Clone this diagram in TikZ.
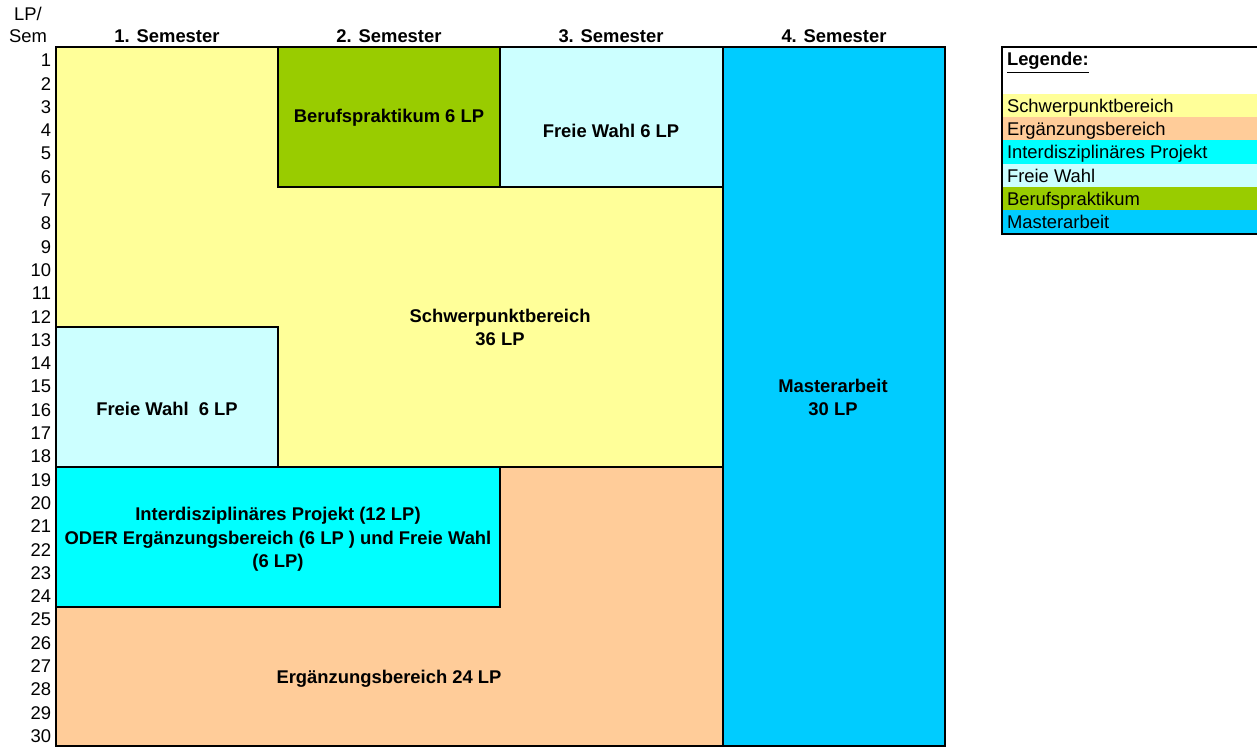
\documentclass[tikz,border=0pt]{standalone}
\usepackage{fontspec}
\setmainfont{Liberation Sans}
\definecolor{spyellow}{HTML}{FFFF99}
\definecolor{iporange}{HTML}{FFCC99}
\definecolor{ipcyan}{HTML}{00FFFF}
\definecolor{fwcyan}{HTML}{CCFFFF}
\definecolor{bpgreen}{HTML}{99CC00}
\definecolor{mablue}{HTML}{00CCFF}
\usepackage{tikz}

\begin{document}
\begin{tikzpicture}[x=0.5pt, y=-0.5pt, line width=1pt,
    lbl/.style={font=\fontsize{9.2}{11.75}\selectfont\bfseries, inner sep=0pt, text height=6.6pt, text depth=0pt, align=center},
    num/.style={font=\fontsize{9.2}{11.75}\selectfont, inner sep=0pt, anchor=east, text height=6.6pt, text depth=0pt},
    leg/.style={font=\fontsize{9.2}{11.75}\selectfont, inner sep=0pt, anchor=west, text height=6.6pt, text depth=0pt}]
    \useasboundingbox (0,0) rectangle (1257,749);
    % Module blocks
    \draw[fill=spyellow] (56,47) rectangle (723,467);
    \draw[fill=bpgreen] (278,47) rectangle (500,187);
    \draw[fill=fwcyan] (500,47) rectangle (723,187);
    \draw[fill=fwcyan] (56,327) rectangle (278,467);
    \draw[fill=iporange] (56,607) -- (500,607) -- (500,467) -- (723,467) -- (723,746) -- (56,746) -- cycle;
    \draw[fill=ipcyan] (56,467) rectangle (500,607);
    \draw[fill=mablue] (723,47) rectangle (945,746);
    % Block labels
    \node[lbl] (bp) at (389,116) {Berufspraktikum 6 LP};
    \node[lbl] (fw3) at (611,131) {Freie Wahl 6 LP};
    \node[lbl] (sp) at (500,339) {Schwerpunktbereich\\36 LP};
    \node[lbl] (fw1) at (167,409) {Freie Wahl\ \ 6 LP};
    \node[lbl] (ma) at (833,409) {Masterarbeit\\30 LP};
    \node[lbl] (ip) at (278,561) {Interdisziplinäres Projekt (12 LP)\\ODER Ergänzungsbereich (6 LP ) und Freie Wahl\\(6 LP)};
    \node[lbl] (eb) at (389,677) {Ergänzungsbereich 24 LP};
    % Axis
    \node[num, anchor=center] (lp) at (28,14) {LP/};
    \node[num, anchor=center] (sem) at (28,36) {Sem};
    \foreach \s/\x in {1/167,2/389,3/611,4/834}
        \node[lbl] (sem\s) at (\x,36) {\s. Semester};
    \foreach \i in {1,...,30}
        \node[num] (row\i) at (52,{47+(\i-0.5)*23.3+1.5}) {\i};
    % Legend
    \fill[spyellow] (1003,94) rectangle (1257,117);
    \fill[iporange] (1003,117) rectangle (1257,140);
    \fill[ipcyan] (1003,140) rectangle (1257,164);
    \fill[fwcyan] (1003,164) rectangle (1257,187);
    \fill[bpgreen] (1003,187) rectangle (1257,210);
    \fill[mablue] (1003,210) rectangle (1257,234);
    \draw (1257,47) -- (1002,47) -- (1002,234) -- (1257,234);
    \node[leg, font=\fontsize{9.2}{11.75}\selectfont\bfseries] (legtitle) at (1006,59) {\underline{Legende:}};
    \node[leg] (legsp) at (1006,105.5) {Schwerpunktbereich};
    \node[leg] (legeb) at (1006,128.8) {Ergänzungsbereich};
    \node[leg] (legip) at (1006,152.1) {Interdisziplinäres Projekt};
    \node[leg] (legfw) at (1006,175.4) {Freie Wahl};
    \node[leg] (legbp) at (1006,198.7) {Berufspraktikum};
    \node[leg] (legma) at (1006,222) {Masterarbeit};
\end{tikzpicture}
\end{document}
